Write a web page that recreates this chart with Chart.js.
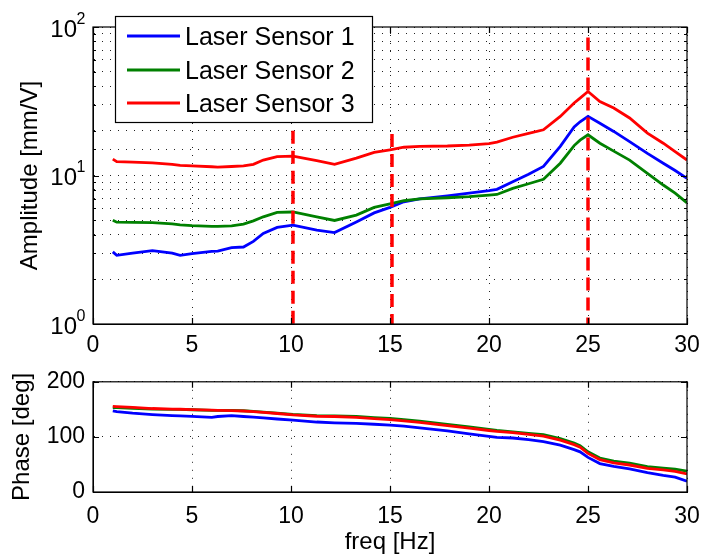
<!DOCTYPE html>
<html>
<head>
<meta charset="utf-8">
<script src="https://cdn.jsdelivr.net/npm/chart.js@4.4.0/dist/chart.umd.min.js"></script>
<style>
  body { margin: 0; background: #fff; }
  #wrap { position: relative; width: 703px; height: 557px; }
  canvas { position: absolute; left: 0; }
  #ampChart { top: 0; }
  #phaseChart { top: 360px; }
</style>
</head>
<body>
<div id="wrap">
  <canvas id="ampChart" width="703" height="360"></canvas>
  <canvas id="phaseChart" width="703" height="197"></canvas>
</div>
<script>
// measured frequency response of the three laser sensors
var freq = [1, 1.2, 2, 3, 4, 4.4, 5, 6, 6.3, 7, 7.6, 8.1, 8.6, 9.3, 10.1, 11.3, 12.2, 13.3, 14.2, 15,
            15.7, 16.5, 17.9, 19, 20, 20.4, 21.2, 22, 22.75, 23.6, 24.3, 24.6, 25, 25.6, 26.3, 27.1, 28, 28.8, 29.4, 30];

var amp1 = [3.06, 2.9, 3.0, 3.12, 3.0, 2.9, 2.98, 3.08, 3.1, 3.27, 3.3, 3.6, 4.07, 4.47, 4.63, 4.28, 4.13, 4.87, 5.6, 6.1,
            6.65, 6.95, 7.3, 7.6, 7.9, 8.07, 9.08, 10.2, 11.5, 15.7, 21.2, 23, 25, 22.5, 19.8, 16.9, 14.1, 12.1, 10.8, 9.57];
var amp2 = [5.0, 4.85, 4.83, 4.82, 4.72, 4.65, 4.6, 4.55, 4.54, 4.58, 4.7, 4.95, 5.27, 5.64, 5.68, 5.27, 4.98, 5.41, 6.1, 6.45,
            6.76, 6.95, 7.08, 7.2, 7.38, 7.45, 8.19, 8.8, 9.42, 12.1, 15.9, 17.3, 18.8, 16.5, 14.6, 12.7, 10.35, 8.63, 7.6, 6.55];
var amp3 = [12.9, 12.4, 12.3, 12.15, 11.9, 11.7, 11.6, 11.45, 11.4, 11.5, 11.6, 11.9, 12.7, 13.4, 13.5, 12.6, 11.9, 13.1, 14.3, 14.9,
            15.5, 15.7, 15.8, 16.0, 16.4, 16.8, 18.1, 19.2, 20.3, 25, 30.8, 33.2, 36.8, 31.5, 28.5, 24.4, 19.3, 16.5, 14.5, 12.7];

var phase1 = [147.4, 146, 143, 140.5, 138.5, 138, 137.3, 135.6, 137, 138.5, 137, 136, 134.5, 132.5, 130.3, 127, 125.5, 124.5, 123, 121.5,
              119.5, 116.5, 111, 105.5, 100.8, 99, 98, 95, 91.5, 85, 77, 72.9, 62.8, 51.6, 46.5, 42, 35, 30, 27, 19.7];
var phase2 = [153, 153, 152, 150.5, 150, 149.8, 149.3, 148.3, 148.2, 148, 147.5, 146.5, 145, 143.2, 141, 138.7, 138.3, 137, 135, 133.5,
              131.2, 128.5, 122.7, 118, 113.8, 112, 109.2, 106.5, 104, 97, 89, 84, 73, 61.7, 56, 52.5, 46, 43.5, 41.5, 38];
var phase3 = [155.3, 155, 153.5, 151.5, 150.5, 150.2, 149.6, 148.5, 148.2, 147.8, 147, 146, 144.5, 142.5, 140, 137.5, 137, 135.5, 133, 131.5,
              129, 126.5, 120.5, 116, 111.6, 110, 107.6, 104.5, 101.5, 94, 86, 81.3, 70, 58.8, 52.7, 49, 43, 40, 37.5, 33];

var sensorNames = ["Laser Sensor 1", "Laser Sensor 2", "Laser Sensor 3"];
var sensorColors = ["#0000ff", "#008000", "#ff0000"];

// resonance markers (red dashed verticals)
var markerFreq = [10.1, 15.1, 25];
var markerTop = [20, 19, 85];

var ampDecades = [1, 10, 100];
var ampExponents = ["0", "1", "2"];

Chart.defaults.font.family = "'Liberation Sans', Arial, Helvetica, sans-serif";
Chart.defaults.color = "#000";

function toPoints(values) {
   return freq.map(function (f, i) { return { x: f, y: values[i] }; });
}

function sensorSets(series) {
   return series.map(function (values, i) {
      return {
         label: sensorNames[i],
         data: toPoints(values),
         borderColor: sensorColors[i],
         borderWidth: 2.8,
         pointRadius: 0,
         tension: 0,
         order: 3 - i
      };
   });
}

// keep the plot box at the same width no matter how wide the end labels are
function fixXAxis(h) {
   return function (scale) {
      scale.height = h;
      scale.paddingLeft = 0;
      scale.paddingRight = 16;
   };
}

// MATLAB-style box with inward tick marks
var framePlugin = {
   id: "frame",
   afterDatasetsDraw: function (chart) {
      var ctx = chart.ctx;
      var a = chart.chartArea;
      var xs = chart.scales.x;
      var ys = chart.scales.y;
      ctx.save();
      ctx.strokeStyle = "#000";
      ctx.lineWidth = 1.2;
      ctx.beginPath();
      xs.ticks.forEach(function (t) {
         var px = Math.round(xs.getPixelForValue(t.value)) + 0.5;
         ctx.moveTo(px, a.bottom); ctx.lineTo(px, a.bottom - 6);
         ctx.moveTo(px, a.top); ctx.lineTo(px, a.top + 6);
      });
      ys.ticks.forEach(function (t) {
         var py = Math.round(ys.getPixelForValue(t.value)) + 0.5;
         var len = (ys.type === "logarithmic" && ampDecades.indexOf(t.value) < 0) ? 3 : 6;
         ctx.moveTo(a.left, py); ctx.lineTo(a.left + len, py);
         ctx.moveTo(a.right, py); ctx.lineTo(a.right - len, py);
      });
      ctx.stroke();
      ctx.strokeRect(a.left, a.top, a.right - a.left, a.bottom - a.top);
      ctx.restore();
   }
};

// 10^n labels for the log axis
var decadeLabels = {
   id: "decadeLabels",
   afterDraw: function (chart) {
      var ctx = chart.ctx;
      var ys = chart.scales.y;
      ctx.save();
      ctx.fillStyle = "#000";
      ctx.textBaseline = "alphabetic";
      ampDecades.forEach(function (v, i) {
         var py = ys.getPixelForValue(v);
         ctx.font = "16px 'Liberation Sans', Arial, sans-serif";
         ctx.textAlign = "left";
         ctx.fillText(ampExponents[i], 76.5, py - 3.5);
         ctx.font = "24px 'Liberation Sans', Arial, sans-serif";
         ctx.textAlign = "right";
         ctx.fillText("10", 77, py + 9.5);
      });
      ctx.restore();
   }
};

var boxLegend = {
   id: "boxLegend",
   afterDraw: function (chart) {
      var ctx = chart.ctx;
      var rows = [36, 70, 103];
      ctx.save();
      ctx.fillStyle = "#fff";
      ctx.fillRect(115, 16, 258, 107);
      ctx.strokeStyle = "#000";
      ctx.lineWidth = 1.2;
      ctx.strokeRect(115.5, 16.5, 257, 106);
      ctx.font = "25px 'Liberation Sans', Arial, sans-serif";
      ctx.textBaseline = "alphabetic";
      ctx.textAlign = "left";
      sensorNames.forEach(function (name, i) {
         ctx.strokeStyle = sensorColors[i];
         ctx.lineWidth = 2.8;
         ctx.beginPath();
         ctx.moveTo(127, rows[i]);
         ctx.lineTo(180, rows[i]);
         ctx.stroke();
         ctx.fillStyle = "#000";
         ctx.fillText(name, 185, rows[i] + 9);
      });
      ctx.restore();
   }
};

var gridDots = { color: "#222", lineWidth: 1, drawTicks: false };

var ampSets = sensorSets([amp1, amp2, amp3]);
markerFreq.forEach(function (f, i) {
   ampSets.push({
      data: [{ x: f, y: markerTop[i] }, { x: f, y: 1 }],
      borderColor: "#ff0000",
      borderWidth: 3.5,
      borderDash: [13, 7],
      pointRadius: 0,
      order: 0
   });
});

new Chart(document.getElementById("ampChart").getContext("2d"), {
   type: "line",
   data: { datasets: ampSets },
   options: {
      responsive: false,
      devicePixelRatio: 1,
      animation: false,
      layout: { padding: { top: 27, right: 16, left: 0, bottom: 0 } },
      plugins: { legend: { display: false }, tooltip: { enabled: false } },
      scales: {
         x: {
            type: "linear", min: 0, max: 30,
            ticks: { stepSize: 5, font: { size: 23 }, padding: 8 },
            grid: gridDots,
            border: { color: "#000", dash: [1, 7] },
            afterFit: fixXAxis(36)
         },
         y: {
            type: "logarithmic", min: 1, max: 100,
            ticks: { display: false },
            grid: gridDots,
            border: { color: "#000", dash: [1, 7] },
            title: { display: true, text: "Amplitude [mm/V]", font: { size: 24 }, padding: { top: 16, bottom: 0 } },
            afterFit: function (scale) { scale.width = 93; }
         }
      }
   },
   plugins: [framePlugin, decadeLabels, boxLegend]
});

new Chart(document.getElementById("phaseChart").getContext("2d"), {
   type: "line",
   data: { datasets: sensorSets([phase1, phase2, phase3]) },
   options: {
      responsive: false,
      devicePixelRatio: 1,
      animation: false,
      layout: { padding: { top: 13, right: 16, left: 0, bottom: 0 } },
      plugins: { legend: { display: false }, tooltip: { enabled: false } },
      scales: {
         x: {
            type: "linear", min: 0, max: 30,
            ticks: { stepSize: 5, font: { size: 23 }, padding: 11 },
            grid: gridDots,
            border: { color: "#000", dash: [1, 7] },
            title: { display: true, text: "freq [Hz]", font: { size: 24 }, padding: { top: 0, bottom: 0 } },
            afterFit: fixXAxis(65)
         },
         y: {
            min: 0, max: 200,
            ticks: { stepSize: 100, font: { size: 23 }, padding: 8 },
            grid: gridDots,
            border: { color: "#000", dash: [1, 7] },
            title: { display: true, text: "Phase [deg]", font: { size: 24 }, padding: { top: 8, bottom: 0 } },
            afterFit: function (scale) { scale.width = 93; }
         }
      }
   },
   plugins: [framePlugin]
});
</script>
</body>
</html>
